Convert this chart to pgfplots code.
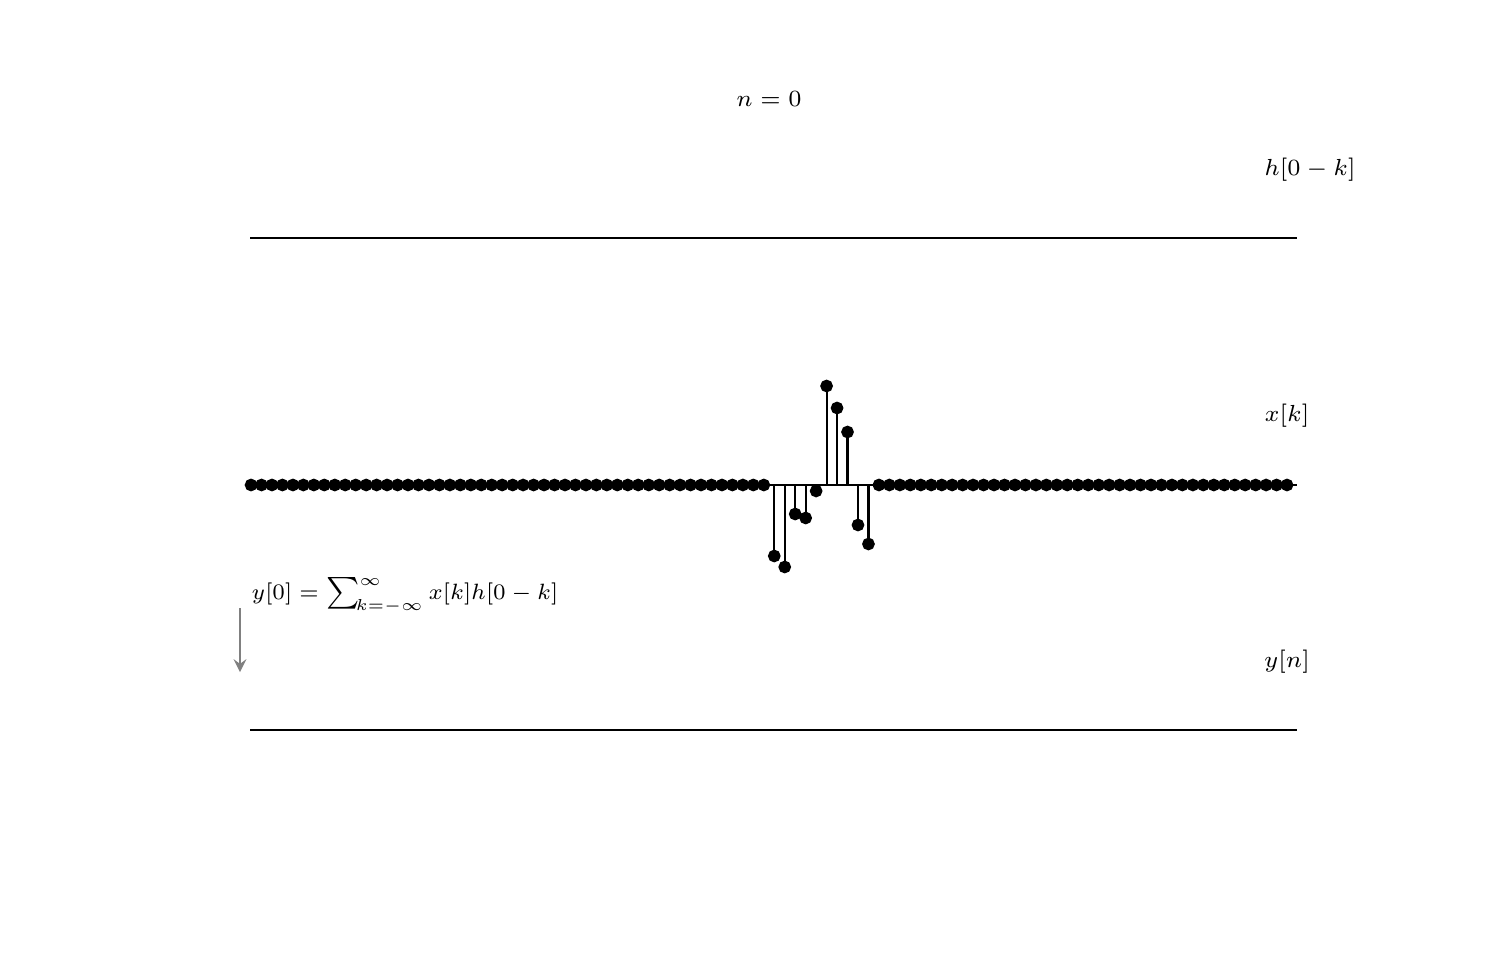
\documentclass[border=0pt]{standalone}
\usepackage{pgfplots}
\pgfplotsset{compat=1.18}
\begin{document}
\begin{tikzpicture}[x=1cm,y=1cm]
\useasboundingbox (0,0) rectangle (15,9.6);
\pgfplotsset{stemaxis/.style={
  scale only axis, width=10.47cm, xmin=-50.1, xmax=49.95,
  axis x line=middle, axis y line=none, xtick=\empty, ytick=\empty,
  axis line style={-, black, line width=0.6pt}, clip=false}}
% top axis h[0-k]
\begin{axis}[stemaxis, at={(2.50cm,6.22cm)}, anchor=south west, height=2cm, ymin=-1, ymax=1]
\addplot[draw=none] coordinates {(0,0)};
\end{axis}
% middle axis x[k]
\begin{axis}[stemaxis, at={(2.50cm,3.55cm)}, anchor=south west, height=2.4cm, ymin=-1.2, ymax=1.2]
\addplot[ycomb, black, line width=0.6pt, mark=*, mark size=1.5pt, mark options={solid, fill=black}] coordinates {
(-50,0)(-49,0)(-48,0)(-47,0)(-46,0)(-45,0)(-44,0)(-43,0)(-42,0)(-41,0)
(-40,0)(-39,0)(-38,0)(-37,0)(-36,0)(-35,0)(-34,0)(-33,0)(-32,0)(-31,0)
(-30,0)(-29,0)(-28,0)(-27,0)(-26,0)(-25,0)(-24,0)(-23,0)(-22,0)(-21,0)
(-20,0)(-19,0)(-18,0)(-17,0)(-16,0)(-15,0)(-14,0)(-13,0)(-12,0)(-11,0)
(-10,0)(-9,0)(-8,0)(-7,0)(-6,0)(-5,0)(-4,0)(-3,0)(-2,0)(-1,0)
(0,-0.71)(1,-0.82)(2,-0.29)(3,-0.33)(4,-0.06)(5,0.99)(6,0.77)(7,0.53)(8,-0.40)(9,-0.59)
(10,0)(11,0)(12,0)(13,0)(14,0)(15,0)(16,0)(17,0)(18,0)(19,0)
(20,0)(21,0)(22,0)(23,0)(24,0)(25,0)(26,0)(27,0)(28,0)(29,0)
(30,0)(31,0)(32,0)(33,0)(34,0)(35,0)(36,0)(37,0)(38,0)(39,0)
(40,0)(41,0)(42,0)(43,0)(44,0)(45,0)(46,0)(47,0)(48,0)(49,0)
};
\end{axis}
% bottom axis y[n]
\begin{axis}[stemaxis, at={(2.50cm,1.30cm)}, anchor=south west, height=2cm, ymin=-1, ymax=1]
\addplot[draw=none] coordinates {(0,0)};
\end{axis}
\begin{scope}[every node/.style={font=\fontsize{7pt}{9pt}\selectfont, inner sep=0pt, scale=0.945, transform shape}]
\node at (7.69,8.61) {$n=0$};
\node at (13.10,7.90) {$h[0-k]$};
\node at (12.87,5.44) {$x[k]$};
\node at (12.87,2.98) {$y[n]$};
\end{scope}
\node[anchor=base west, inner sep=0pt, font=\fontsize{7pt}{9pt}\selectfont, scale=0.9, transform shape] at (2.51,3.61) {$y[0]=\sum\nolimits_{\!k=-\infty}^{\infty}x[k]h[0-k]$};
\draw[gray, line width=0.6pt, -stealth] (2.40,3.52) -- (2.40,2.88);
\end{tikzpicture}
\end{document}
